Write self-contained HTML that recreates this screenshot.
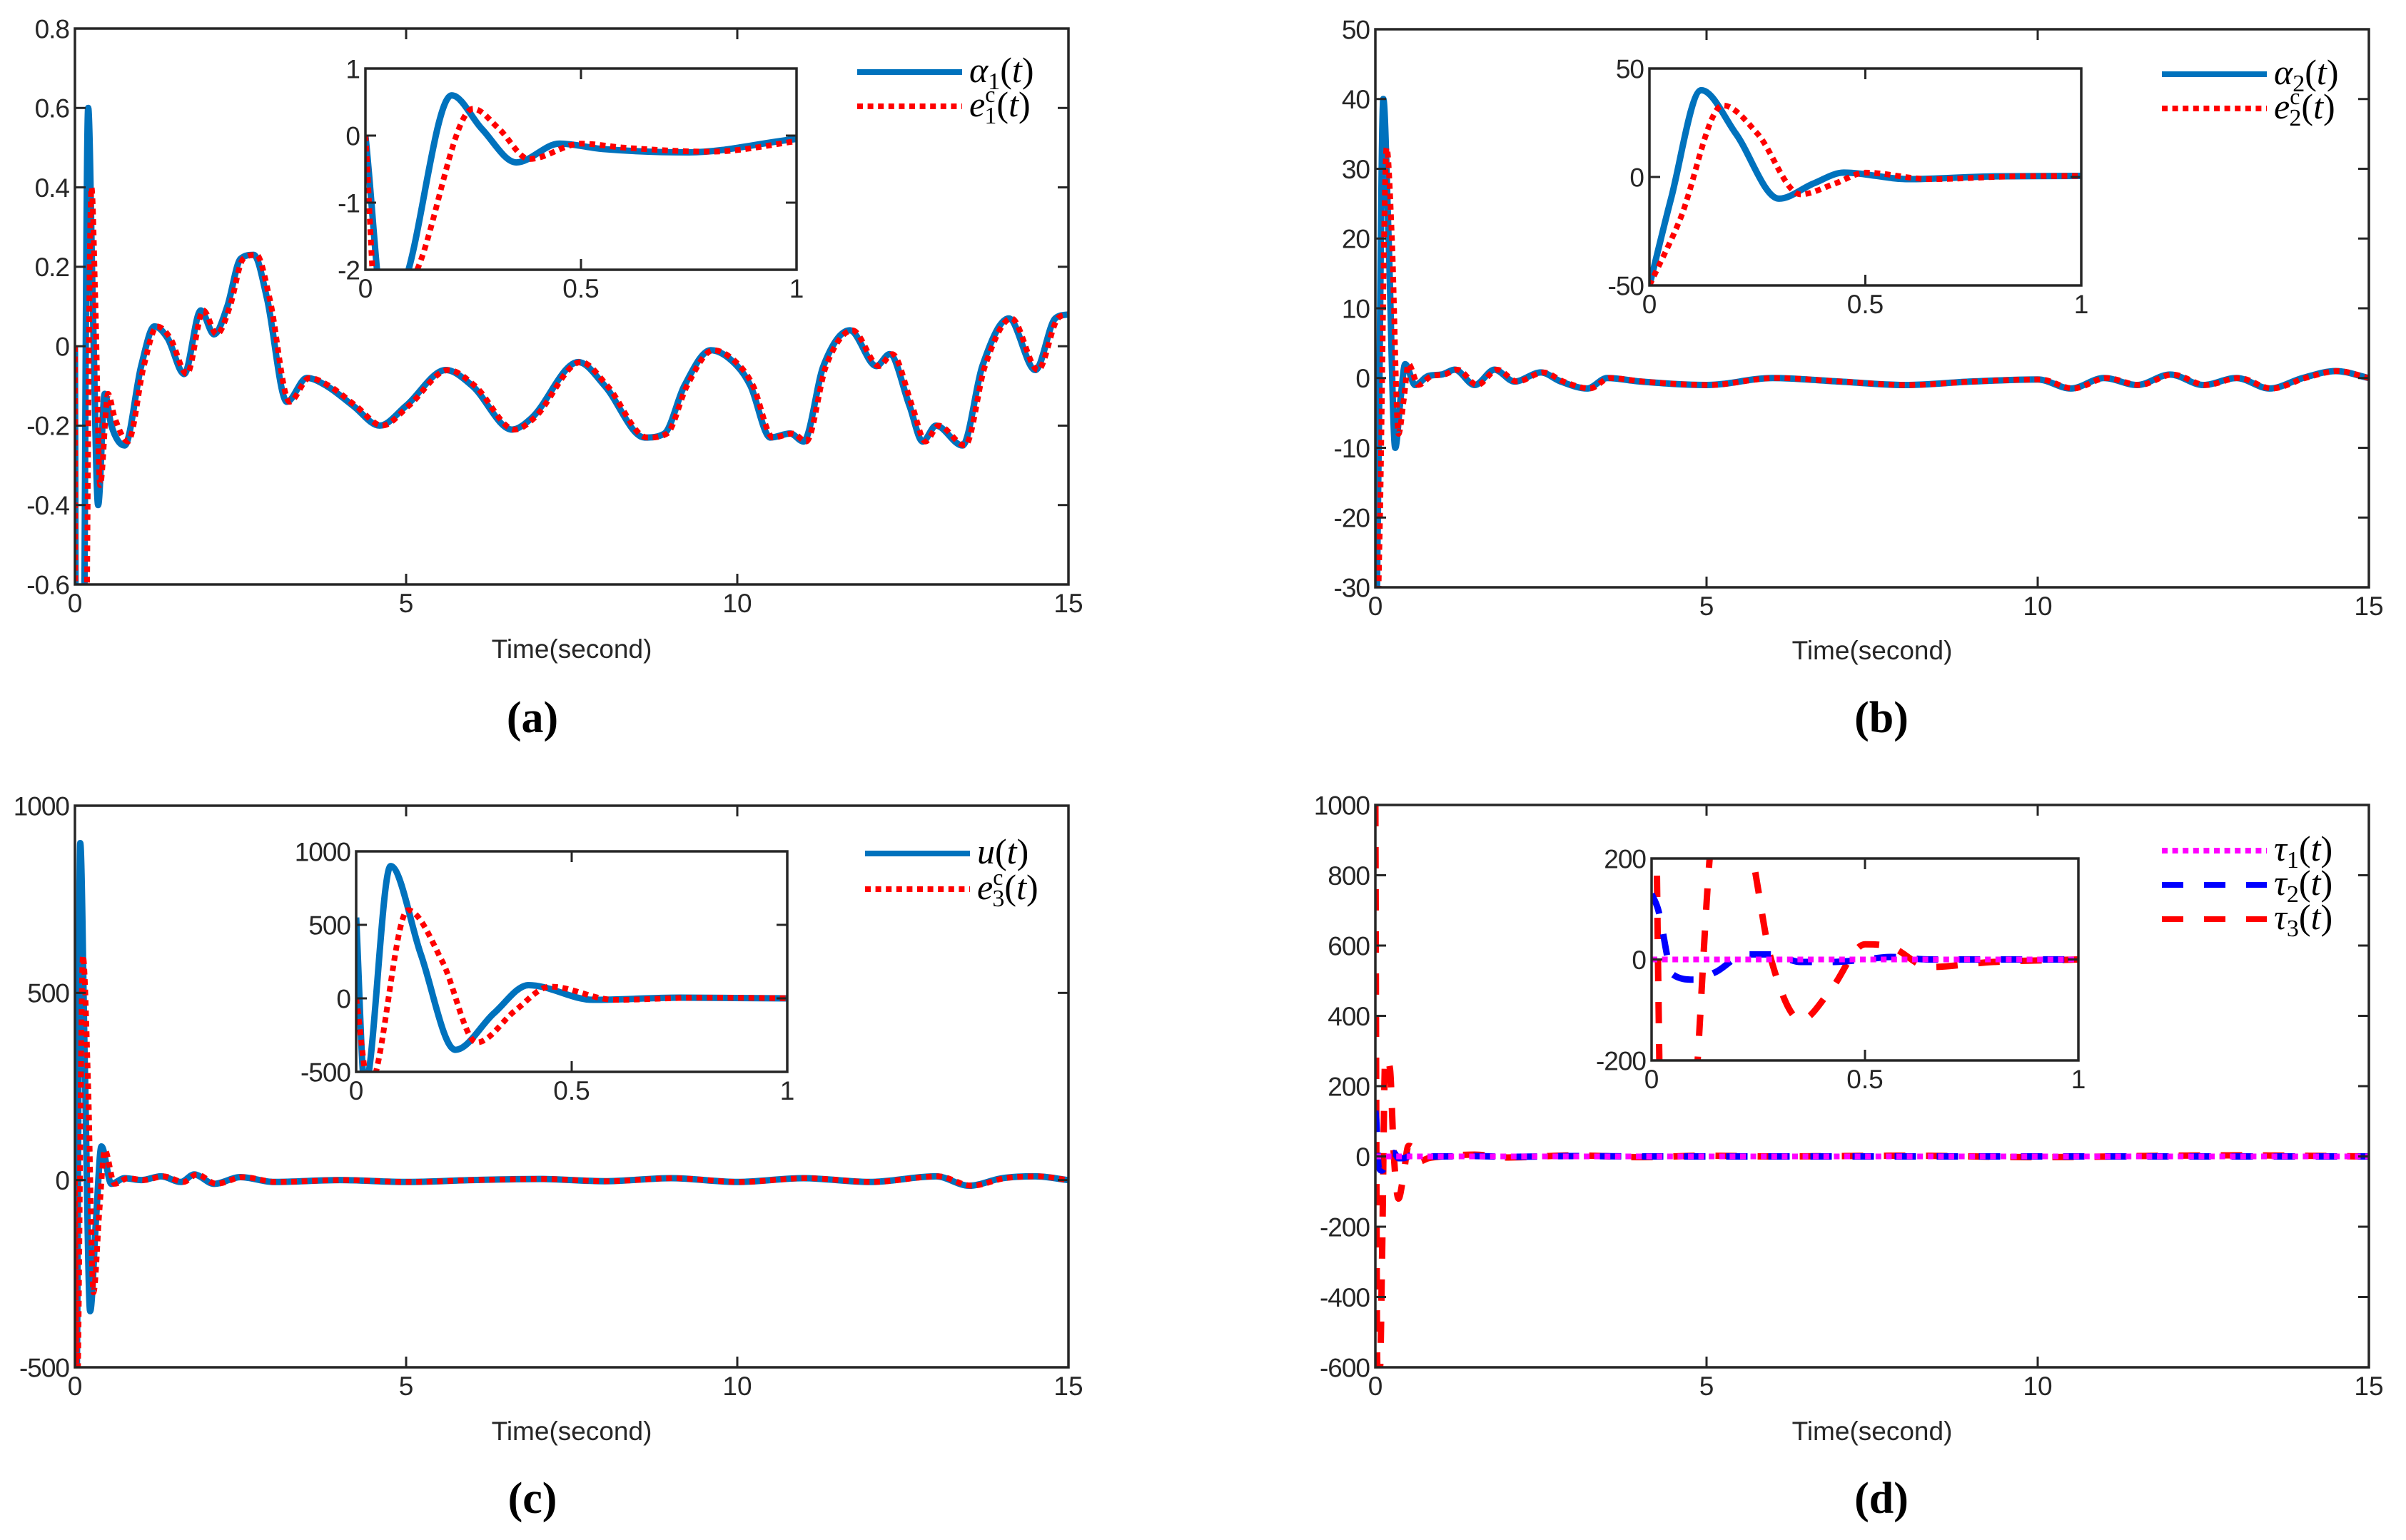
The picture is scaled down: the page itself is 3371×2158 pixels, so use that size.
<!DOCTYPE html>
<html><head><meta charset="utf-8"><style>
html,body{margin:0;padding:0;background:#fff}
svg{display:block}
text{font-family:"Liberation Sans",sans-serif;fill:#262626}
.cap{font-family:"Liberation Serif",serif;font-weight:bold;fill:#000}
.leg{font-family:"Liberation Serif",serif;font-style:italic;fill:#000}
</style></head><body>
<svg id="fig" width="3371" height="2158" viewBox="0 0 3371 2158" xmlns="http://www.w3.org/2000/svg"></svg>
<script>
// ---- Panel (a) data ----
const aTimes = [0,0.05,0.1,0.2,0.27,0.35,0.45,0.55,0.75,1.0,1.2,1.4,1.65,1.9,2.1,2.3,2.5,2.7,2.9,3.2,3.5,3.8,4.2,4.6,5.0,5.6,6.0,6.6,6.9,7.6,8.0,8.6,8.9,9.2,9.6,10.0,10.2,10.5,10.8,11.0,11.3,11.7,12.1,12.3,12.6,12.8,13.0,13.4,13.7,14.1,14.5,14.8,15];
const alpha1 = [0,-3,-2,0.6,0.1,-0.4,-0.12,-0.2,-0.25,-0.05,0.05,0.02,-0.07,0.09,0.03,0.1,0.22,0.23,0.12,-0.14,-0.08,-0.1,-0.15,-0.2,-0.15,-0.06,-0.1,-0.21,-0.18,-0.04,-0.1,-0.23,-0.22,-0.1,-0.01,-0.05,-0.1,-0.23,-0.22,-0.24,-0.05,0.04,-0.05,-0.02,-0.15,-0.24,-0.2,-0.25,-0.05,0.07,-0.06,0.07,0.08];
const aRedTimes = [0,0.03,0.12,0.25,0.31,0.38,0.5,0.6,0.8,1.04,1.24,1.44,1.69,1.94,2.14,2.34,2.54,2.74,2.94,3.24,3.54,3.84,4.24,4.64,5.04,5.64,6.04,6.64,6.94,7.64,8.04,8.64,8.94,9.24,9.64,10.04,10.24,10.54,10.84,11.04,11.34,11.74,12.14,12.34,12.64,12.84,13.04,13.44,13.74,14.14,14.54,14.84,15];
const e1c = [0,-3,-2,0.4,0.1,-0.35,-0.12,-0.18,-0.24,-0.05,0.05,0.02,-0.07,0.09,0.03,0.1,0.22,0.23,0.12,-0.14,-0.08,-0.1,-0.15,-0.2,-0.15,-0.06,-0.1,-0.21,-0.18,-0.04,-0.1,-0.23,-0.22,-0.1,-0.01,-0.05,-0.1,-0.23,-0.22,-0.24,-0.05,0.04,-0.05,-0.02,-0.15,-0.24,-0.2,-0.25,-0.05,0.07,-0.06,0.07,0.08];
const aYTicks = [-0.6,-0.4,-0.2,0,0.2,0.4,0.6,0.8];
const aYLabels = ["-0.6","-0.4","-0.2","0","0.2","0.4","0.6","0.8"];
const aInsetYTicks = [-2,-1,0,1];
const aInsetYLabels = ["-2","-1","0","1"];
// ---- Panel (b) data ----
const bTimes = [0,0.05,0.12,0.2,0.3,0.38,0.45,0.6,0.8,1.0,1.2,1.5,1.8,2.1,2.5,2.8,3.2,3.5,4,5,6,7,8,9,10,10.5,11,11.5,12,12.5,13,13.5,14,14.5,15];
const alpha2 = [-50,-10,40,20,-10,-3,2,-1,0.3,0.5,1.2,-1,1.2,-0.5,0.8,-0.5,-1.5,0,-0.5,-1,0,-0.5,-1,-0.5,-0.2,-1.5,0,-1,0.5,-1,0,-1.5,0,1,0];
const bRedTimes = [0,0.07,0.17,0.25,0.35,0.43,0.5,0.65,0.85,1.04,1.24,1.54,1.84,2.14,2.54,2.84,3.24,3.54,4.04,5.04,6.04,7.04,8.04,9.04,10.04,10.54,11.04,11.54,12.04,12.54,13.04,13.54,14.04,14.54,15];
const e2c = [-50,-20,33,20,-8,-3,2,-1,0.3,0.5,1.2,-1,1.2,-0.5,0.8,-0.5,-1.5,0,-0.5,-1,0,-0.5,-1,-0.5,-0.2,-1.5,0,-1,0.5,-1,0,-1.5,0,1,0];
const bYTicks = [-30,-20,-10,0,10,20,30,40,50];
const bYLabels = ["-30","-20","-10","0","10","20","30","40","50"];
const bInsetYTicks = [-50,0,50];
const bInsetYLabels = ["-50","0","50"];
// ---- Panel (c) data ----
const cTimes = [0,0.02,0.08,0.15,0.23,0.32,0.4,0.55,0.75,1.0,1.3,1.6,1.8,2.1,2.5,3,4,5,6,7,8,9,10,11,12,13,13.5,14,14.5,15];
const uVals = [550,-600,900,300,-350,-100,90,-10,5,0,10,-5,15,-10,8,-5,0,-5,0,3,-3,5,-5,5,-5,10,-15,5,10,0];
const cRedTimes = [0,0.03,0.12,0.2,0.28,0.37,0.45,0.6,0.8,1.04,1.34,1.64,1.84,2.14,2.54,3.04,4.04,5.04,6.04,7.04,8.04,9.04,10.04,11.04,12.04,13.04,13.54,14.04,14.54,15];
const e3c = [0,-600,600,250,-300,-80,80,-10,5,0,10,-5,15,-10,8,-5,0,-5,0,3,-3,5,-5,5,-5,10,-15,5,10,0];
const cYTicks = [-500,0,500,1000];
const cYLabels = ["-500","0","500","1000"];
const cInsetYTicks = [-500,0,500,1000];
const cInsetYLabels = ["-500","0","500","1000"];
// ---- Panel (d) data ----
const dTimes = [0,0.015,0.05,0.1,0.15,0.22,0.28,0.35,0.42,0.5,0.56,0.65,0.8,1,1.5,2,3,4,5,6,8,10,12,13,15];
const tau1 = [0,0,0,0,0,0,0,0,0,0,0,0,0,0,0,0,0,0,0,0,0,0,0,0,0];
const tau2 = [130,100,-30,-40,-25,10,10,-5,-5,0,5,0,0,0,1,-1,1,0,0,0,0,0,0,0,0];
const tau3Times = [0,0.03,0.07,0.1,0.15,0.22,0.28,0.35,0.42,0.5,0.56,0.65,0.8,1,1.5,2,3,4,5,6,8,10,12,13,15];
const tau3 = [1000,-600,-600,-300,280,250,0,-120,-60,30,25,-15,-5,0,5,-3,3,-2,2,0,2,-2,2,3,0];
const dYTicks = [-600,-400,-200,0,200,400,600,800,1000];
const dYLabels = ["-600","-400","-200","0","200","400","600","800","1000"];
const dInsetYTicks = [-200,0,200];
const dInsetYLabels = ["-200","0","200"];
// shared x ticks
const mainXTicks = [0,5,10,15];
const mainXLabels = ["0","5","10","15"];
const insetXTicks = [0,0.5,1];
const insetXLabels = ["0","0.5","1"];

const NS = "http://www.w3.org/2000/svg";
const fig = document.getElementById('fig');
let clipId = 0;
function el(tag, attrs, parent){
  const e = document.createElementNS(NS, tag);
  for (const k in attrs) e.setAttribute(k, attrs[k]);
  (parent||fig).appendChild(e);
  return e;
}
function monoPath(px, py){
  const n = px.length;
  const d=[], m=new Array(n);
  for(let i=0;i<n-1;i++) d.push((py[i+1]-py[i])/((px[i+1]-px[i])||1e-6));
  m[0]=d[0]; m[n-1]=d[n-2];
  for(let i=1;i<n-1;i++){ m[i]= (d[i-1]*d[i]<=0)?0:(d[i-1]+d[i])/2; }
  for(let i=0;i<n-1;i++){
    if(d[i]===0){m[i]=0;m[i+1]=0;continue;}
    const a=m[i]/d[i], b=m[i+1]/d[i], s=a*a+b*b;
    if(s>9){const t=3/Math.sqrt(s); m[i]=t*a*d[i]; m[i+1]=t*b*d[i];}
  }
  let p = `M${px[0].toFixed(2)},${py[0].toFixed(2)}`;
  for(let i=0;i<n-1;i++){
    const h=px[i+1]-px[i];
    p += ` C${(px[i]+h/3).toFixed(2)},${(py[i]+m[i]*h/3).toFixed(2)} ${(px[i+1]-h/3).toFixed(2)},${(py[i+1]-m[i+1]*h/3).toFixed(2)} ${px[i+1].toFixed(2)},${py[i+1].toFixed(2)}`;
  }
  return p;
}
function axes(cfg){
  const g = el('g', {});
  
  
  const xs = v => cfg.x0 + (v-cfg.xmin)/(cfg.xmax-cfg.xmin)*(cfg.x1-cfg.x0);
  const ys = v => cfg.y1 - (v-cfg.ymin)/(cfg.ymax-cfg.ymin)*(cfg.y1-cfg.y0);
  el('rect',{x:cfg.x0,y:cfg.y0,width:cfg.x1-cfg.x0,height:cfg.y1-cfg.y0,fill:'#fff'},g);
  const cid = 'clip'+(clipId++);
  const cp = el('clipPath',{id:cid},g);
  el('rect',{x:cfg.x0,y:cfg.y0,width:cfg.x1-cfg.x0,height:cfg.y1-cfg.y0},cp);
  const sg = el('g',{'clip-path':`url(#${cid})`},g);
  cfg.series.forEach(s=>{
    const px=[],py=[];
    for(let i=0;i<s.t.length;i++){ if(s.t[i]>cfg.xmax+0.3) break; px.push(xs(s.t[i])); py.push(ys(Math.max(cfg.ymin-(cfg.ymax-cfg.ymin)*2, Math.min(cfg.ymax+(cfg.ymax-cfg.ymin)*2, s.v[i])))); }
    const p = el('path',{d:monoPath(px,py),fill:'none',stroke:s.color,'stroke-width':s.w,'stroke-dasharray':s.dash||'none','stroke-linejoin':'round'},sg);
    
    
  });
  const tl = 15, fs = cfg.fs;
  cfg.xticks.forEach((v,i)=>{
    const x = xs(v);
    el('line',{x1:x,x2:x,y1:cfg.y1,y2:cfg.y1-tl,stroke:'#262626','stroke-width':3},g);
    el('line',{x1:x,x2:x,y1:cfg.y0,y2:cfg.y0+tl,stroke:'#262626','stroke-width':3},g);
    const t = el('text',{x:x,y:cfg.y1+fs*1.05,'font-size':fs,'text-anchor':'middle'},g);
    t.textContent = cfg.xlabels[i];
    
    
  });
  cfg.yticks.forEach((v,i)=>{
    const y = ys(v);
    el('line',{x1:cfg.x0,x2:cfg.x0+tl,y1:y,y2:y,stroke:'#262626','stroke-width':3},g);
    el('line',{x1:cfg.x1,x2:cfg.x1-tl,y1:y,y2:y,stroke:'#262626','stroke-width':3},g);
    const t = el('text',{x:cfg.x0-8,y:y+fs*0.36,'font-size':fs,'text-anchor':'end','letter-spacing':-1},g);
    t.textContent = cfg.ylabels[i];
    
    
  });
  el('rect',{x:cfg.x0,y:cfg.y0,width:cfg.x1-cfg.x0,height:cfg.y1-cfg.y0,fill:'none',stroke:'#262626','stroke-width':3.5},g);
  return g;
}
function legend(x, ys, entries){
  entries.forEach((e,i)=>{
    const y = ys[i];
    const ln = el('line',{x1:x,x2:x+147,y1:y,y2:y,stroke:e.color,'stroke-width':8,'stroke-dasharray':e.dash||'none'});
    
    
    const t = el('text',{x:x+157,y:y+14,'font-size':50,'class':'leg'});
    t.innerHTML = e.label;
    
    
  });
}
function label(x,y,txt,fs,cls,name){
  const t = el('text',{x:x,y:y,'font-size':fs,'text-anchor':'middle'});
  if(cls) t.setAttribute('class',cls);
  t.textContent = txt;
  
  
}
const BLUE='#0072BD', RED='#FF0000', MAG='#FF00FF', B2='#0000FF';
const DOT='8 6.6', DASH='30 29';
const sub = (b,s)=>`${b}<tspan font-size="34" font-style="normal" dy="10">${s}</tspan><tspan dy="-10" font-style="normal">(</tspan>t<tspan font-style="normal">)</tspan>`;
const esub = (s)=>`e<tspan font-size="32" font-style="normal" dy="-20">c</tspan><tspan font-size="34" font-style="normal" dx="-15" dy="30">${s}</tspan><tspan dy="-10" font-style="normal">(</tspan>t<tspan font-style="normal">)</tspan>`;

// Panel a
axes({name:'panel-a-axes',x0:105,x1:1497,y0:40,y1:819,xmin:0,xmax:15,ymin:-0.6,ymax:0.8,fs:37,xticks:mainXTicks,xlabels:mainXLabels,yticks:aYTicks,ylabels:aYLabels,
  series:[{t:aTimes,v:alpha1,color:BLUE,w:9,name:'alpha1-line'},{t:aRedTimes,v:e1c,color:RED,w:8,dash:DOT,name:'e1c-line'}]});
axes({name:'panel-a-inset',x0:512,x1:1116,y0:96,y1:378,xmin:0,xmax:1,ymin:-2,ymax:1,fs:37,xticks:insetXTicks,xlabels:insetXLabels,yticks:aInsetYTicks,ylabels:aInsetYLabels,
  series:[{t:aTimes,v:alpha1,color:BLUE,w:9,name:'alpha1-inset-line'},{t:aRedTimes,v:e1c,color:RED,w:8,dash:DOT,name:'e1c-inset-line'}]});
legend(1201,[101,149],[{color:BLUE,label:sub('α','1')},{color:RED,dash:DOT,label:esub('1')}]);
label(801,922,'Time(second)',37,null,'x-axis-title-a');
label(746,1026,'(a)',62,'cap','caption-a');

// Panel b
axes({name:'panel-b-axes',x0:1927,x1:3319,y0:41,y1:823,xmin:0,xmax:15,ymin:-30,ymax:50,fs:37,xticks:mainXTicks,xlabels:mainXLabels,yticks:bYTicks,ylabels:bYLabels,
  series:[{t:bTimes,v:alpha2,color:BLUE,w:9,name:'alpha2-line'},{t:bRedTimes,v:e2c,color:RED,w:8,dash:DOT,name:'e2c-line'}]});
axes({name:'panel-b-inset',x0:2311,x1:2916,y0:96,y1:400,xmin:0,xmax:1,ymin:-50,ymax:50,fs:37,xticks:insetXTicks,xlabels:insetXLabels,yticks:bInsetYTicks,ylabels:bInsetYLabels,
  series:[{t:bTimes,v:alpha2,color:BLUE,w:9,name:'alpha2-inset-line'},{t:bRedTimes,v:e2c,color:RED,w:8,dash:DOT,name:'e2c-inset-line'}]});
legend(3029,[104,152],[{color:BLUE,label:sub('α','2')},{color:RED,dash:DOT,label:esub('2')}]);
label(2623,924,'Time(second)',37,null,'x-axis-title-b');
label(2636,1026,'(b)',62,'cap','caption-b');

// Panel c
axes({name:'panel-c-axes',x0:105,x1:1497,y0:1129,y1:1916,xmin:0,xmax:15,ymin:-500,ymax:1000,fs:37,xticks:mainXTicks,xlabels:mainXLabels,yticks:cYTicks,ylabels:cYLabels,
  series:[{t:cTimes,v:uVals,color:BLUE,w:9,name:'u-line'},{t:cRedTimes,v:e3c,color:RED,w:8,dash:DOT,name:'e3c-line'}]});
axes({name:'panel-c-inset',x0:499,x1:1103,y0:1193,y1:1502,xmin:0,xmax:1,ymin:-500,ymax:1000,fs:37,xticks:insetXTicks,xlabels:insetXLabels,yticks:cInsetYTicks,ylabels:cInsetYLabels,
  series:[{t:cTimes,v:uVals,color:BLUE,w:9,name:'u-inset-line'},{t:cRedTimes,v:e3c,color:RED,w:8,dash:DOT,name:'e3c-inset-line'}]});
legend(1212,[1196,1246],[{color:BLUE,label:'u<tspan font-style="normal">(</tspan>t<tspan font-style="normal">)</tspan>'},{color:RED,dash:DOT,label:esub('3')}]);
label(801,2018,'Time(second)',37,null,'x-axis-title-c');
label(746,2120,'(c)',62,'cap','caption-c');

// Panel d
axes({name:'panel-d-axes',x0:1927,x1:3319,y0:1128,y1:1916,xmin:0,xmax:15,ymin:-600,ymax:1000,fs:37,xticks:mainXTicks,xlabels:mainXLabels,yticks:dYTicks,ylabels:dYLabels,
  series:[{t:tau3Times,v:tau3,color:RED,w:9,dash:DASH,name:'tau3-line'},{t:dTimes,v:tau2,color:B2,w:9,dash:DASH,name:'tau2-line'},{t:dTimes,v:tau1,color:MAG,w:8,dash:DOT,name:'tau1-line'}]});
axes({name:'panel-d-inset',x0:2314,x1:2912,y0:1203,y1:1486,xmin:0,xmax:1,ymin:-200,ymax:200,fs:37,xticks:insetXTicks,xlabels:insetXLabels,yticks:dInsetYTicks,ylabels:dInsetYLabels,
  series:[{t:tau3Times,v:tau3,color:RED,w:9,dash:DASH,name:'tau3-inset-line'},{t:dTimes,v:tau2,color:B2,w:9,dash:DASH,name:'tau2-inset-line'},{t:dTimes,v:tau1,color:MAG,w:8,dash:DOT,name:'tau1-inset-line'}]});
legend(3029,[1192,1240,1288],[{color:MAG,dash:DOT,label:sub('τ','1')},{color:B2,dash:DASH,label:sub('τ','2')},{color:RED,dash:DASH,label:sub('τ','3')}]);
label(2623,2018,'Time(second)',37,null,'x-axis-title-d');
label(2636,2120,'(d)',62,'cap','caption-d');
</script>
</body></html>
